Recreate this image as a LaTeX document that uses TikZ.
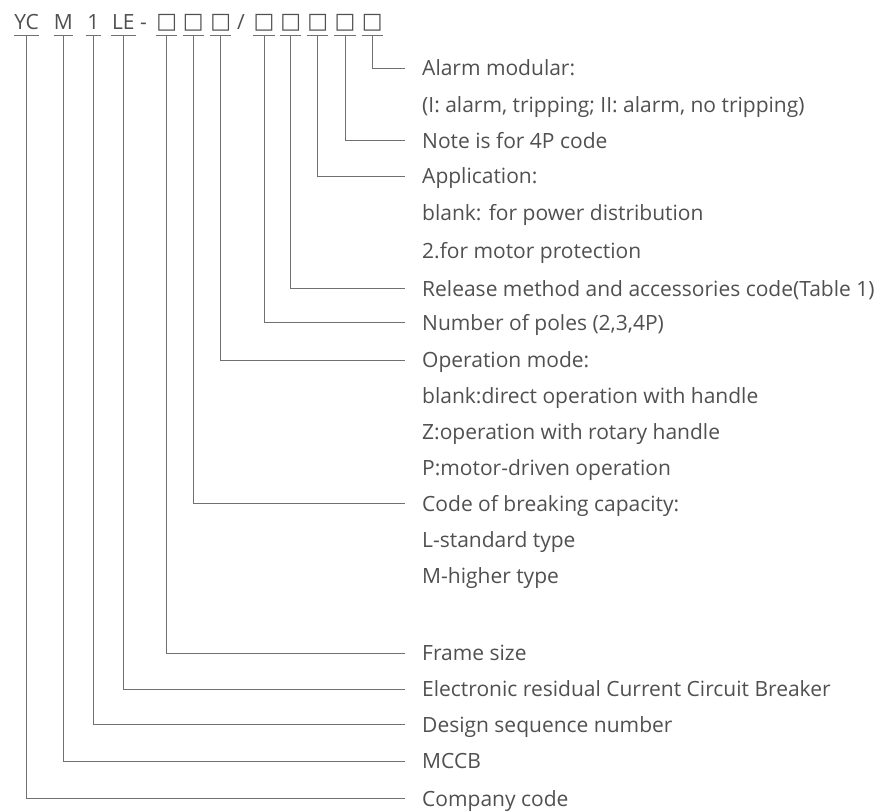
\documentclass[tikz,border=0pt]{standalone}
\usepackage{fontspec}
\setmainfont{Open Sans}
\newfontfamily\symfont{DejaVu Sans}
\definecolor{txt}{HTML}{505050}
\definecolor{ln}{HTML}{707070}
\tikzset{
  lbl/.style={anchor=west, inner xsep=17pt, inner ysep=0pt, text height=15pt, text depth=0pt, text=txt, font=\fontsize{21}{25}\selectfont},
  hdr/.style={anchor=south, inner sep=0pt, text height=15pt, text depth=5.7pt, text=txt, font=\fontsize{21}{25}\selectfont},
  hbox/.style={hdr, text depth=7.3pt, font=\symfont\fontsize{22}{25}\selectfont, minimum width=17pt},
  uline/.style={draw=ln, line width=0.9pt},
  conn/.style={draw=ln, line width=0.9pt},
}
\begin{document}
\begin{tikzpicture}[x=1pt,y=-1pt]
\useasboundingbox (0,0) rectangle (893,811);
% header
\node[hdr, minimum width=25pt] (hYC) at (26.7,35.7) {YC};
\node[hdr, minimum width=16.6pt] (hM) at (63.3,35.7) {M};
\node[hdr, minimum width=15pt] (h1) at (93.3,35.7) {1};
\node[hdr, minimum width=25pt] (hLE) at (123.3,35.7) {LE};
\node[hdr] (hdash) at (143.5,35.7) {-};
\node[hbox] (b1) at (166.7,35.7) {□};
\node[hbox] (b2) at (193.3,35.7) {□};
\node[hbox] (b3) at (220.7,35.7) {□};
\node[hdr] (hslash) at (241,35.7) {/};
\node[hbox] (b4) at (264,35.7) {□};
\node[hbox] (b5) at (290.7,35.7) {□};
\node[hbox] (b6) at (317.7,35.7) {□};
\node[hbox] (b7) at (345,35.7) {□};
\node[hbox] (b8) at (372.3,35.7) {□};
\foreach \n in {hYC,hM,h1,hLE,b1,b2,b3,b4,b5,b6,b7,b8}
  \draw[uline] (\n.south west) -- (\n.south east);
% labels
\node[lbl] (lAlarm) at (405,68) {Alarm modular:};
\node[lbl] (lAlarm2) at (405,104.5) {(I: alarm, tripping; II: alarm, no tripping)};
\node[lbl] (lNote) at (405,140.7) {Note is for 4P code};
\node[lbl] (lApp) at (405,176) {Application:};
\node[lbl] (lApp2) at (405,213) {blank: for power distribution};
\node[lbl] (lApp3) at (405,250.5) {2.for motor protection};
\node[lbl] (lRel) at (405,288.7) {Release method and accessories code(Table 1)};
\node[lbl] (lPol) at (405,322.7) {Number of poles (2,3,4P)};
\node[lbl] (lOp) at (405,360.3) {Operation mode:};
\node[lbl] (lOp2) at (405,396.2) {blank:direct operation with handle};
\node[lbl] (lOp3) at (405,432) {Z:operation with rotary handle};
\node[lbl] (lOp4) at (405,468) {P:motor-driven operation};
\node[lbl] (lCode) at (405,503.7) {Code of breaking capacity:};
\node[lbl] (lCode2) at (405,539.7) {L-standard type};
\node[lbl] (lCode3) at (405,575.7) {M-higher type};
\node[lbl] (lFrame) at (405,653.3) {Frame size};
\node[lbl] (lElec) at (405,689) {Electronic residual Current Circuit Breaker};
\node[lbl] (lDes) at (405,724.7) {Design sequence number};
\node[lbl] (lMCCB) at (405,761) {MCCB};
\node[lbl] (lComp) at (405,798.7) {Company code};
% connectors
\draw[conn] (b8.south) |- (lAlarm.west);
\draw[conn] (b7.south) |- (lNote.west);
\draw[conn] (b6.south) |- (lApp.west);
\draw[conn] (b5.south) |- (lRel.west);
\draw[conn] (b4.south) |- (lPol.west);
\draw[conn] (b3.south) |- (lOp.west);
\draw[conn] (b2.south) |- (lCode.west);
\draw[conn] (b1.south) |- (lFrame.west);
\draw[conn] (hLE.south) |- (lElec.west);
\draw[conn] (h1.south) |- (lDes.west);
\draw[conn] (hM.south) |- (lMCCB.west);
\draw[conn] (hYC.south) |- (lComp.west);
\end{tikzpicture}
\end{document}
